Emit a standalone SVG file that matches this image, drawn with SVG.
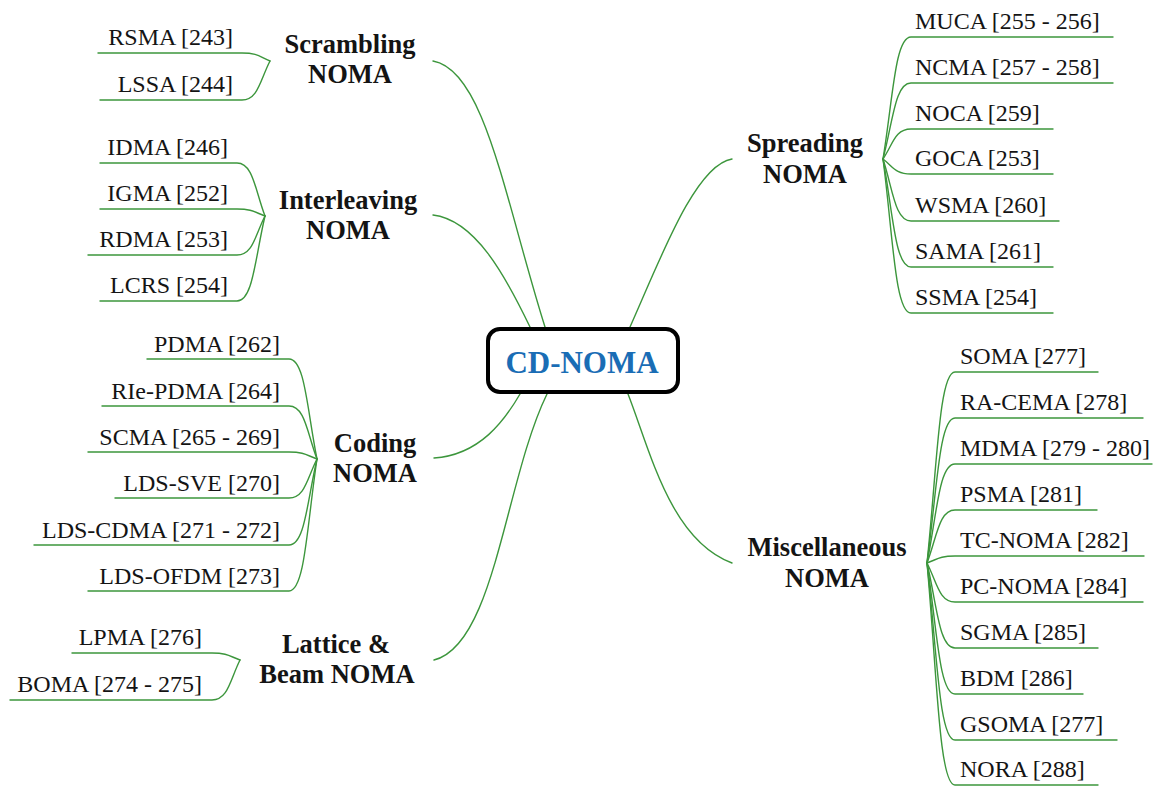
<svg xmlns="http://www.w3.org/2000/svg" width="1156" height="787" viewBox="0 0 1156 787">
  <style>
    .bg { fill: #ffffff; }
    .link { fill: none; stroke: #3c963c; stroke-width: 1.4; stroke-linecap: round; }
    .item { font-family: "Liberation Serif", "Times New Roman", serif; font-size: 24px; fill: #141414; }
    .cat { font-family: "Liberation Serif", "Times New Roman", serif; font-size: 26.5px; font-weight: bold; fill: #141414; text-anchor: middle; }
    .left { text-anchor: end; }
    .root-box { fill: #ffffff; stroke: #000000; stroke-width: 4; }
    .root-text { font-family: "Liberation Serif", "Times New Roman", serif; font-size: 31px; font-weight: bold; fill: #1a6db5; text-anchor: middle; }
  </style>
  <rect class="bg" x="0" y="0" width="1156" height="787"/>

  <!-- connectors: root to categories, categories to items -->
  <g id="connectors">
    <!-- root branches -->
    <path class="link" d="M433,61 C485,70 505,200 545,327"/>
    <path class="link" d="M433,215 C475,220 505,275 530,327"/>
    <path class="link" d="M434,458 C480,455 505,420 520,394"/>
    <path class="link" d="M434,660 C495,645 505,480 547,394"/>
    <path class="link" d="M732,159 C695,165 660,260 630,327"/>
    <path class="link" d="M628,394 C650,450 670,540 732,563"/>

    <!-- scrambling items -->
    <path class="link" d="M98,53 H242 C258,53 260,57 270,61"/>
    <path class="link" d="M100,100 H242 C258,100 260,80.5 270,61"/>

    <!-- interleaving items -->
    <path class="link" d="M100,163 H237 C253,163 255,189.5 265,216"/>
    <path class="link" d="M100,209 H237 C253,209 255,212.5 265,216"/>
    <path class="link" d="M88,255 H237 C253,255 255,235.5 265,216"/>
    <path class="link" d="M100,301 H237 C253,301 255,258.5 265,216"/>

    <!-- coding items -->
    <path class="link" d="M147,359 H289 C305,359 307,409 317,459"/>
    <path class="link" d="M102,406 H289 C305,406 307,432.5 317,459"/>
    <path class="link" d="M88,452 H289 C305,452 307,455.5 317,459"/>
    <path class="link" d="M115,498 H289 C305,498 307,478.5 317,459"/>
    <path class="link" d="M34,545 H289 C305,545 307,502 317,459"/>
    <path class="link" d="M88,591 H289 C305,591 307,525 317,459"/>

    <!-- lattice & beam items -->
    <path class="link" d="M72,653 H212 C228,653 230,656.5 240,660"/>
    <path class="link" d="M10,700 H212 C228,700 230,680 240,660"/>

    <!-- spreading items -->
    <path class="link" d="M1113,37 H911 C895,37 893,98 883,159"/>
    <path class="link" d="M1113,83 H911 C895,83 893,121 883,159"/>
    <path class="link" d="M1053,129 H911 C895,129 893,144 883,159"/>
    <path class="link" d="M1053,174 H911 C895,174 893,166.5 883,159"/>
    <path class="link" d="M1059,221 H911 C895,221 893,190 883,159"/>
    <path class="link" d="M1053,267 H911 C895,267 893,213 883,159"/>
    <path class="link" d="M1053,313 H911 C895,313 893,236 883,159"/>

    <!-- miscellaneous items -->
    <path class="link" d="M1098,372 H955 C939,372 937,467.5 927,563"/>
    <path class="link" d="M1143,418 H955 C939,418 937,490.5 927,563"/>
    <path class="link" d="M1152,464 H955 C939,464 937,513.5 927,563"/>
    <path class="link" d="M1097,510 H955 C939,510 937,536.5 927,563"/>
    <path class="link" d="M1144,556 H955 C939,556 937,559.5 927,563"/>
    <path class="link" d="M1143,602 H955 C939,602 937,582.5 927,563"/>
    <path class="link" d="M1098,648 H955 C939,648 937,605.5 927,563"/>
    <path class="link" d="M1083,694 H955 C939,694 937,628.5 927,563"/>
    <path class="link" d="M1117,740 H955 C939,740 937,651.5 927,563"/>
    <path class="link" d="M1098,785 H955 C939,785 937,674 927,563"/>
  </g>

  <!-- root -->
  <g id="cd-noma">
    <rect class="root-box" x="488" y="329" width="190" height="63" rx="12" ry="12"/>
    <text class="root-text" x="582" y="373">CD-NOMA</text>
  </g>

  <!-- categories -->
  <g id="scrambling-noma">
    <text class="cat" x="350" y="53">Scrambling</text>
    <text class="cat" x="350" y="83">NOMA</text>
  </g>
  <g id="interleaving-noma">
    <text class="cat" x="348" y="209">Interleaving</text>
    <text class="cat" x="348" y="239">NOMA</text>
  </g>
  <g id="coding-noma">
    <text class="cat" x="375" y="452">Coding</text>
    <text class="cat" x="375" y="482">NOMA</text>
  </g>
  <g id="lattice-beam-noma">
    <text class="cat" x="336" y="653">Lattice &amp;</text>
    <text class="cat" x="337" y="683">Beam NOMA</text>
  </g>
  <g id="spreading-noma">
    <text class="cat" x="805" y="152">Spreading</text>
    <text class="cat" x="805" y="183">NOMA</text>
  </g>
  <g id="miscellaneous-noma">
    <text class="cat" x="827" y="556">Miscellaneous</text>
    <text class="cat" x="827" y="587">NOMA</text>
  </g>

  <!-- scrambling leaves -->
  <g id="rsma"><text class="item left" x="233" y="45">RSMA [243]</text></g>
  <g id="lssa"><text class="item left" x="233" y="92">LSSA [244]</text></g>

  <!-- interleaving leaves -->
  <g id="idma"><text class="item left" x="228" y="155">IDMA [246]</text></g>
  <g id="igma"><text class="item left" x="228" y="201">IGMA [252]</text></g>
  <g id="rdma"><text class="item left" x="228" y="247">RDMA [253]</text></g>
  <g id="lcrs"><text class="item left" x="228" y="293">LCRS [254]</text></g>

  <!-- coding leaves -->
  <g id="pdma"><text class="item left" x="280" y="352">PDMA [262]</text></g>
  <g id="rie-pdma"><text class="item left" x="280" y="399">RIe-PDMA [264]</text></g>
  <g id="scma"><text class="item left" x="280" y="445">SCMA [265 - 269]</text></g>
  <g id="lds-sve"><text class="item left" x="280" y="491">LDS-SVE [270]</text></g>
  <g id="lds-cdma"><text class="item left" x="280" y="538">LDS-CDMA [271 - 272]</text></g>
  <g id="lds-ofdm"><text class="item left" x="280" y="584">LDS-OFDM [273]</text></g>

  <!-- lattice & beam leaves -->
  <g id="lpma"><text class="item left" x="202" y="645">LPMA [276]</text></g>
  <g id="boma"><text class="item left" x="202" y="692">BOMA [274 - 275]</text></g>

  <!-- spreading leaves -->
  <g id="muca"><text class="item" x="915" y="29">MUCA [255 - 256]</text></g>
  <g id="ncma"><text class="item" x="915" y="75">NCMA [257 - 258]</text></g>
  <g id="noca"><text class="item" x="915" y="121">NOCA [259]</text></g>
  <g id="goca"><text class="item" x="915" y="166">GOCA [253]</text></g>
  <g id="wsma"><text class="item" x="915" y="213">WSMA [260]</text></g>
  <g id="sama"><text class="item" x="915" y="259">SAMA [261]</text></g>
  <g id="ssma"><text class="item" x="915" y="305">SSMA [254]</text></g>

  <!-- miscellaneous leaves -->
  <g id="soma"><text class="item" x="960" y="364">SOMA [277]</text></g>
  <g id="ra-cema"><text class="item" x="960" y="410">RA-CEMA [278]</text></g>
  <g id="mdma"><text class="item" x="960" y="456">MDMA [279 - 280]</text></g>
  <g id="psma"><text class="item" x="960" y="502">PSMA [281]</text></g>
  <g id="tc-noma"><text class="item" x="960" y="548">TC-NOMA [282]</text></g>
  <g id="pc-noma"><text class="item" x="960" y="594">PC-NOMA [284]</text></g>
  <g id="sgma"><text class="item" x="960" y="640">SGMA [285]</text></g>
  <g id="bdm"><text class="item" x="960" y="686">BDM [286]</text></g>
  <g id="gsoma"><text class="item" x="960" y="732">GSOMA [277]</text></g>
  <g id="nora"><text class="item" x="960" y="777">NORA [288]</text></g>
</svg>
